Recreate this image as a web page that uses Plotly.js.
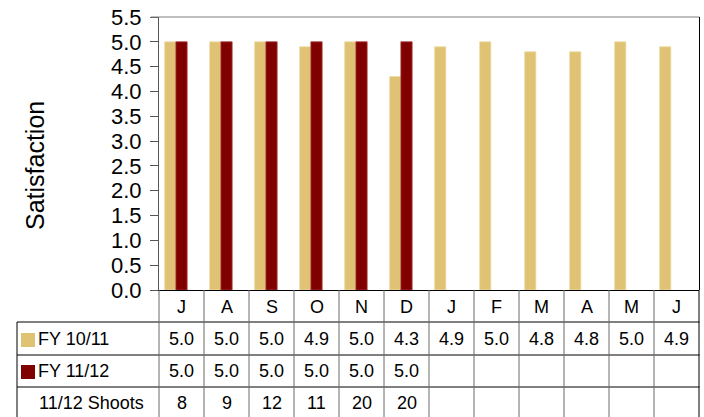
<!DOCTYPE html>
<html>
<head>
<meta charset="utf-8">
<script src="https://cdn.plot.ly/plotly-3.0.1.min.js"></script>
<style>
  html, body { margin: 0; padding: 0; background: #ffffff; }
  #chart { width: 704px; height: 417px; }
</style>
</head>
<body>
<div id="chart"></div>
<script>
// Monthly satisfaction scores, July through June
const months = ['J', 'A', 'S', 'O', 'N', 'D', 'J', 'F', 'M', 'A', 'M', 'J'];
const fy1011 = [5.0, 5.0, 5.0, 4.9, 5.0, 4.3, 4.9, 5.0, 4.8, 4.8, 5.0, 4.9];
const fy1112 = [5.0, 5.0, 5.0, 5.0, 5.0, 5.0];
const shoots = [8, 9, 12, 11, 20, 20];
const seriesNames = ['FY 10/11', 'FY 11/12', '11/12 Shoots'];

const GOLD = '#dfc274';
const MAROON = '#800000';
const FONT = 'Liberation Sans, Arial, sans-serif';

// page geometry (pixels) used to place the data table under the plot
const W = 704, H = 417;
const M = { l: 159, r: 5, t: 17, b: 127 };
const plotW = W - M.l - M.r;
const plotH = H - M.t - M.b;
const px = x => (x - M.l) / plotW;          // pixel x -> paper x
const py = y => (H - M.b - y) / plotH;      // pixel y -> paper y

const idx = arr => arr.map((_, i) => i);

const traces = [
  {
    type: 'bar', name: seriesNames[0],
    x: idx(fy1011), y: fy1011,
    width: 0.25, offset: -0.375,
    marker: { color: GOLD, line: { color: '#efdca4', width: 0.8 } },
    hoverinfo: 'y'
  },
  {
    type: 'bar', name: seriesNames[1],
    x: idx(fy1112), y: fy1112,
    width: 0.25, offset: -0.125,
    marker: { color: MAROON, line: { color: '#a83a3a', width: 0.8 } },
    hoverinfo: 'y'
  }
];

// table row centres (pixels)
const rowHeaderY = 306.5;
const rowY = [339, 371, 403];
const rowLines = [322, 355, 387];

const annotations = [];
const tableFont = { family: FONT, size: 18, color: '#000' };

// month header cells
months.forEach((m, i) => annotations.push({
  xref: 'x', yref: 'paper', x: i, y: py(rowHeaderY),
  text: m, showarrow: false, font: tableFont, xanchor: 'center', yanchor: 'middle'
}));

// value cells
const rows = [
  fy1011.map(v => v.toFixed(1)),
  fy1112.map(v => v.toFixed(1)),
  shoots.map(v => String(v))
];
rows.forEach((vals, r) => vals.forEach((t, i) => annotations.push({
  xref: 'x', yref: 'paper', x: i, y: py(rowY[r]),
  text: t, showarrow: false, font: tableFont, xanchor: 'center', yanchor: 'middle'
})));

// row labels
seriesNames.forEach((n, r) => annotations.push({
  xref: 'paper', yref: 'paper', x: px(r < 2 ? 36 : 37), y: py(rowY[r]),
  text: n, showarrow: false, font: tableFont, xanchor: 'left', yanchor: 'middle'
}));

// axis title
annotations.push({
  xref: 'paper', yref: 'paper', x: px(35), y: py(166),
  text: 'Satisfaction', textangle: -90, showarrow: false,
  font: { family: FONT, size: 25, color: '#000' },
  xanchor: 'center', yanchor: 'middle'
});

const shapes = [];
const line = (x0, y0, x1, y1, color) => shapes.push({
  type: 'line', xref: 'paper', yref: 'paper',
  x0: px(x0), y0: py(y0), x1: px(x1), y1: py(y1),
  line: { color: color, width: 1 }
});

// plot frame: top and right edges
line(151, 17, 699.5, 17, '#7f7f7f');
line(699.5, 17, 699.5, 290, '#000');

// table grid
rowLines.forEach(y => line(17, y, 699.5, y, '#000'));
line(17, 322, 17, 417, '#000');
for (let i = 0; i <= months.length; i++) {
  const x = M.l + i * plotW / months.length;
  line(x, 290, x, 417, i === months.length ? '#000' : '#6a6a6a');
}

// legend keys in the table
const key = (x0, y0, x1, y1, color) => shapes.push({
  type: 'rect', xref: 'paper', yref: 'paper',
  x0: px(x0), y0: py(y0), x1: px(x1), y1: py(y1),
  fillcolor: color, line: { width: 0 }
});
key(21, 333, 35, 347, GOLD);
key(21, 365, 35, 379, MAROON);

const layout = {
  width: W, height: H,
  margin: M,
  paper_bgcolor: '#fff', plot_bgcolor: '#fff',
  showlegend: false,
  barmode: 'overlay',
  font: { family: FONT, color: '#000' },
  xaxis: {
    range: [-0.5, months.length - 0.5],
    showticklabels: false, ticks: '', showgrid: false, zeroline: false,
    showline: true, linecolor: '#000', linewidth: 1, fixedrange: true
  },
  yaxis: {
    range: [0, 5.5], dtick: 0.5, tick0: 0, tickformat: '.1f',
    ticks: 'outside', ticklen: 8, tickcolor: '#555', tickwidth: 1,
    showline: true, linecolor: '#555', linewidth: 1,
    showgrid: false, zeroline: false,
    tickfont: { family: FONT, size: 22, color: '#000' },
    ticklabelstandoff: 4, fixedrange: true
  },
  annotations: annotations,
  shapes: shapes
};

Plotly.newPlot('chart', traces, layout, { displayModeBar: false, staticPlot: true });
</script>
</body>
</html>
